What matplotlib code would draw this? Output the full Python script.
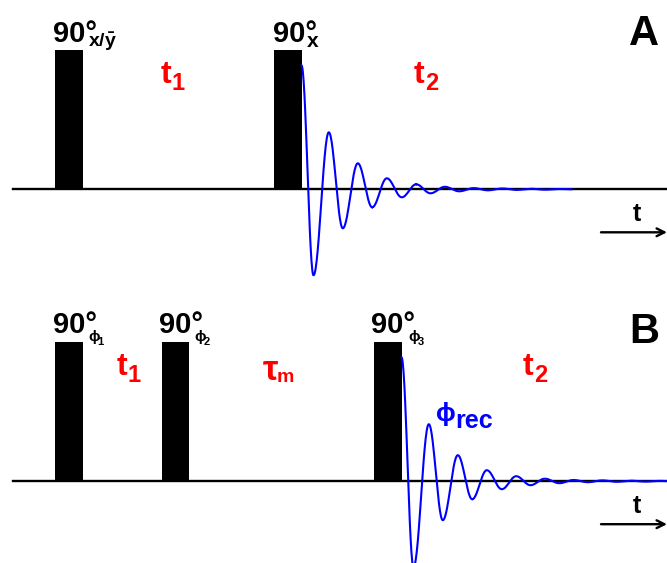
import numpy as np
import matplotlib.pyplot as plt

plt.rcParams['font.family'] = ['Liberation Sans', 'DejaVu Sans']
plt.rcParams['font.weight'] = 'bold'
plt.rcParams['mathtext.fontset'] = 'custom'
plt.rcParams['mathtext.bf'] = 'Liberation Sans:bold'
plt.rcParams['mathtext.rm'] = 'Liberation Sans:bold'

W, H = 667, 563

# baselines of the two sequences (pixel rows)
baseline_a = 189.3
baseline_b = 481.2

# 90 degree pulses: left edge, width, top
pulses_a = [55, 274]
pulses_b = [55, 161.5, 374]
pulse_width = 27.5
pulse_top_a = 50
pulse_top_b = 342

# FID: offsets of the extrema from the end of the last pulse, and their amplitudes
fid_t = [0, 12, 27.3, 41.3, 56.3, 70.7, 85.3, 100.3, 114.7, 129, 143.3, 157.8, 172,
         186.4, 200.8, 215.2, 229.6, 244, 258.4, 270]
fid_amp = [124, -86, 57, -39, 26, -18, 11, -8, 5, -4, 2.5, -2, 1.2, -1, 0.8, -0.6, 0.5, -0.4, 0.3, 0]
fid_start_a = 301.5
fid_start_b = 401.5


def fid_curve(t0):
    # join the extrema with half cosine arcs
    xs, ys = [], []
    for i in range(len(fid_t) - 1):
        s = np.linspace(0, 1, 30)
        a0, a1 = fid_amp[i], fid_amp[i + 1]
        xs.append(t0 + fid_t[i] + (fid_t[i + 1] - fid_t[i]) * s)
        ys.append((a0 + a1) / 2 + (a0 - a1) / 2 * np.cos(np.pi * s))
    return np.concatenate(xs), np.concatenate(ys)


fig = plt.figure(figsize=(W / 100, H / 100), dpi=100)
ax = fig.add_axes([0, 0, 1, 1])
ax.set_xlim(0, W)
ax.set_ylim(H, 0)
ax.axis('off')

for base, starts, top, t0 in [(baseline_a, pulses_a, pulse_top_a, fid_start_a),
                              (baseline_b, pulses_b, pulse_top_b, fid_start_b)]:
    ax.plot([13, W], [base, base], color='black', lw=1.7, zorder=1)
    ax.bar(starts, top - base, width=pulse_width, bottom=base, align='edge',
           color='black', zorder=2)
    fx, fy = fid_curve(t0)
    ax.plot(fx, base - fy, color='#0000ff', lw=1.5, zorder=3)
    # time arrow
    ax.annotate('', xy=(W, base + 43), xytext=(601, base + 43), annotation_clip=False,
                arrowprops=dict(arrowstyle='->', color='black', lw=1.7,
                                mutation_scale=14, shrinkA=0, shrinkB=0))
    ax.text(633, base + 32, 't', fontsize=18, fontweight='bold', ha='left', va='baseline')

txt = dict(fontweight='bold', ha='left', va='baseline')

# panel A labels
ax.text(52.5, 41.7, '90°', fontsize=21, **txt)
ax.text(88, 47, r'$\mathbf{x/\bar{y}}$', fontsize=14, **txt)
ax.text(272.5, 41.7, '90°', fontsize=21, **txt)
ax.text(307, 47, 'x', fontsize=15, **txt)
ax.text(160.5, 83.3, 't', fontsize=23, color='red', **txt)
ax.text(171.5, 90, '1', fontsize=17, color='red', **txt)
ax.text(414, 83.3, 't', fontsize=23, color='red', **txt)
ax.text(425, 90, '2', fontsize=17, color='red', **txt)
ax.text(629, 45, 'A', fontsize=30, **txt)

# panel B labels
for x90, xphi, sub in [(52.5, 88, '1'), (159, 194.5, '2'), (371.5, 408, '3')]:
    ax.text(x90, 332.7, '90°', fontsize=21, **txt)
    ax.text(xphi, 340.5, 'ϕ', fontsize=11, **txt)
    ax.text(xphi + 9.5, 345, sub, fontsize=8, **txt)
ax.text(116.5, 374.7, 't', fontsize=23, color='red', **txt)
ax.text(127.5, 381.7, '1', fontsize=17, color='red', **txt)
ax.text(523, 374.7, 't', fontsize=23, color='red', **txt)
ax.text(534, 381.7, '2', fontsize=17, color='red', **txt)
ax.text(262.5, 380, 'τ', fontsize=25, color='red', **txt)
ax.text(276.5, 381.7, 'm', fontsize=14, color='red', **txt)
ax.text(436, 421, 'ϕ', fontsize=19, color='#0000ff', **txt)
ax.text(455, 428, 'rec', fontsize=18, color='#0000ff', **txt)
ax.text(629, 343, 'B', fontsize=30, **txt)

fig.savefig('out.png', dpi=100)
